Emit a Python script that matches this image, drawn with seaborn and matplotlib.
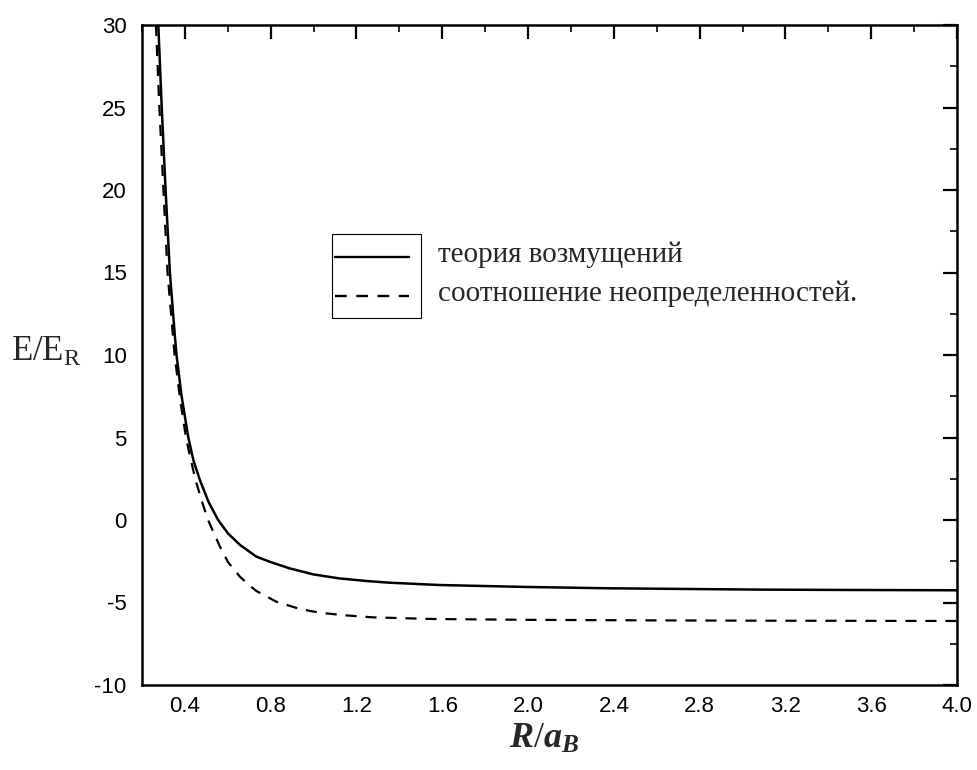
import numpy as np
import pandas as pd
import matplotlib
matplotlib.use("Agg")
import matplotlib.pyplot as plt
from matplotlib.ticker import MultipleLocator
from matplotlib.patches import Rectangle
import seaborn as sns

# ---- data ----
r_pert = [0.276, 0.292, 0.310, 0.330, 0.353, 0.361, 0.385, 0.416, 0.44, 0.47, 0.51, 0.555,
          0.60, 0.656, 0.733, 0.80, 0.888, 1.00, 1.12, 1.25, 1.353, 1.586, 2.0, 2.38,
          3.09, 3.5, 4.0]
e_pert = [30.0, 25.0, 20.0, 15.0, 11.2, 10.0, 7.47, 5.0, 3.6, 2.42, 1.1, 0.0,
          -0.8, -1.5, -2.22, -2.55, -2.93, -3.3, -3.54, -3.70, -3.80, -3.94, -4.06, -4.14,
          -4.22, -4.24, -4.26]

r_unc = [0.265, 0.281, 0.300, 0.319, 0.352, 0.378, 0.405, 0.425, 0.45, 0.48, 0.508, 0.563,
         0.601, 0.656, 0.70, 0.733, 0.826, 0.935, 1.00, 1.059, 1.15, 1.276, 1.555, 2.0,
         2.5, 3.0, 3.5, 4.0]
e_unc = [30.0, 25.0, 20.0, 15.0, 10.0, 7.3, 5.0, 3.8, 2.4, 1.1, 0.0, -1.6,
         -2.55, -3.43, -3.95, -4.3, -4.95, -5.39, -5.55, -5.66, -5.78, -5.9, -6.0, -6.05,
         -6.08, -6.1, -6.11, -6.12]

legend_labels = ["теория возмущений", "соотношение неопределенностей."]
x_ticks = [0.4, 0.8, 1.2, 1.6, 2.0, 2.4, 2.8, 3.2, 3.6, 4.0]
x_tick_labels = ["0.4", "0.8", "1.2", "1.6", "2.0", "2.4", "2.8", "3.2", "3.6", "4.0"]
y_ticks = [-10, -5, 0, 5, 10, 15, 20, 25, 30]

sns.set_theme(style="white")
plt.rcParams["font.family"] = ["Liberation Sans", "DejaVu Sans"]
plt.rcParams["axes.unicode_minus"] = False
plt.rcParams["mathtext.fontset"] = "custom"
plt.rcParams["mathtext.rm"] = "Liberation Serif"
plt.rcParams["mathtext.it"] = "Liberation Serif:italic:bold"

fig, ax = plt.subplots(figsize=(9.77, 7.70), dpi=100)
fig.subplots_adjust(left=142/977, right=957/977, top=1-25/770, bottom=1-685/770)

df1 = pd.DataFrame({"R": r_pert, "E": e_pert})
df2 = pd.DataFrame({"R": r_unc, "E": e_unc})
sns.lineplot(data=df1, x="R", y="E", ax=ax, color="black", lw=1.8, sort=False, estimator=None)
sns.lineplot(data=df2, x="R", y="E", ax=ax, color="black", lw=1.6, sort=False, estimator=None,
             linestyle=(0, (5, 4)))

ax.set_xlim(0.2, 4.0)
ax.set_ylim(-10, 30)
ax.set_xticks(x_ticks)
ax.set_xticklabels(x_tick_labels)
ax.set_yticks(y_ticks)
ax.xaxis.set_minor_locator(MultipleLocator(0.2))
ax.yaxis.set_minor_locator(MultipleLocator(2.5))

for s in ax.spines.values():
    s.set_linewidth(1.8)
    s.set_color("black")

ax.tick_params(which="major", direction="in", length=10, width=1.6, top=True, right=True,
               labelsize=16, colors="black")
ax.tick_params(axis="x", which="major", pad=8)
ax.tick_params(axis="y", which="major", pad=11)
ax.tick_params(which="minor", direction="in", length=5, width=1.4, top=True, right=True)

ax.set_xlabel(r"$R/a_B$", fontsize=26)
ax.xaxis.set_label_coords(0.493, -0.055)
ax.set_ylabel(r"$\mathrm{E/E_R}$", fontsize=25, rotation=0, ha="center", va="center")
ax.yaxis.set_label_coords(-0.117, 0.505)

# legend drawn as in the reference: box round the line samples, text outside
ax.add_patch(Rectangle((0.233, 0.556), 0.109, 0.127, transform=ax.transAxes,
                       fill=False, edgecolor="black", lw=0.8))
ax.plot([0.237, 0.327], [0.648, 0.648], transform=ax.transAxes, color="black", lw=1.7)
ax.plot([0.237, 0.327], [0.589, 0.589], transform=ax.transAxes, color="black", lw=1.7,
        linestyle=(0, (5, 4)))
ax.text(0.363, 0.652, legend_labels[0], transform=ax.transAxes, va="center", ha="left",
        fontsize=21, family=["Liberation Serif", "DejaVu Serif"])
ax.text(0.363, 0.593, legend_labels[1], transform=ax.transAxes, va="center", ha="left",
        fontsize=21, family=["Liberation Serif", "DejaVu Serif"])

fig.savefig("out.png", dpi=100, facecolor="white")
